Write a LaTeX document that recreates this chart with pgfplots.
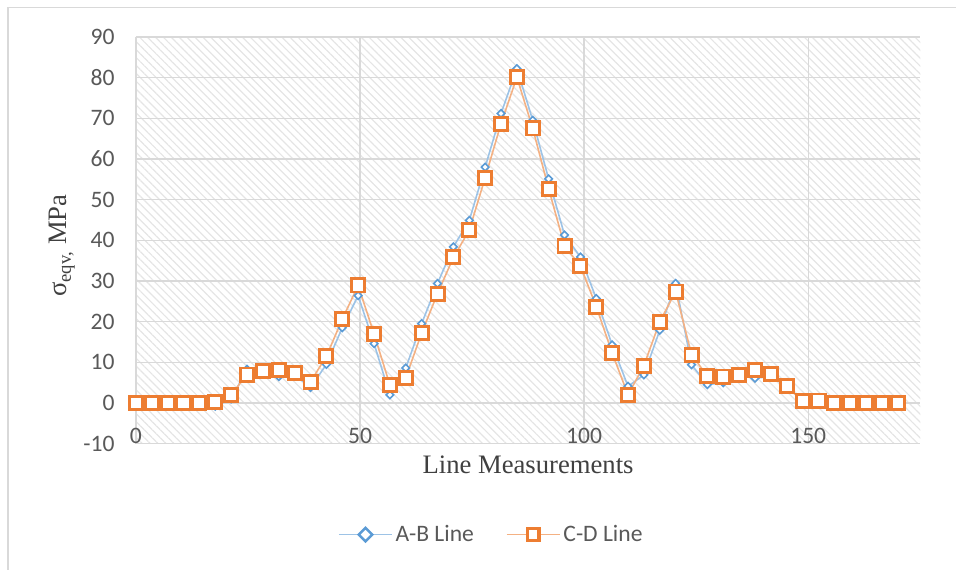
\documentclass[border=0pt]{standalone}
\usepackage{pgfplots}
\pgfplotsset{compat=1.18}
\usepackage{pgfplotstable}
\usetikzlibrary{patterns.meta}
\usepackage{fontspec}
\setmainfont{Liberation Serif}
\newfontfamily\calibri{Carlito}

\definecolor{abmark}{HTML}{5B9BD5}
\definecolor{abline}{HTML}{9DC3E6}
\definecolor{cdmark}{HTML}{ED7D31}
\definecolor{cdline}{HTML}{F4B183}
\definecolor{gridgray}{HTML}{D9D9D9}
\definecolor{labelgray}{HTML}{595959}

% x = position along the line, ab = A-B line, cd = C-D line
\pgfplotstableread{
x      ab     cd
0.00   0.0    0.0
3.54   0.0    0.0
7.08   0.0    0.0
10.63  0.0    0.0
14.17  0.0    0.0
17.71  -0.8   0.2
21.25  1.0    2.0
24.79  8.3    7.0
28.33  8.0    7.8
31.88  6.5    8.2
35.42  7.0    7.4
38.96  3.8    5.2
42.50  9.5    11.5
46.04  18.5   20.6
49.58  26.4   28.9
53.13  14.6   17.0
56.67  2.0    4.4
60.21  8.6    6.2
63.75  19.5   17.2
67.29  29.4   26.9
70.83  38.4   35.8
74.38  44.9   42.5
77.92  58.0   55.4
81.46  71.2   68.7
85.00  82.2   80.1
88.54  69.5   67.5
92.08  55.1   52.7
95.63  41.3   38.6
99.17  35.9   33.7
102.71 25.7   23.7
106.25 14.3   12.3
109.79 4.1    2.0
113.33 6.9    9.2
116.88 17.9   20.0
120.42 29.4   27.4
123.96 9.4    11.9
127.50 4.5    6.6
131.04 5.0    6.5
134.58 6.9    6.9
138.13 6.1    8.2
141.67 6.5    7.2
145.21 4.1    4.1
148.75 0.4    0.4
152.29 0.4    0.6
155.83 0.0    0.0
159.38 0.0    0.0
162.92 0.0    0.0
166.46 0.0    0.0
170.00 0.0    0.0
}\data

\begin{document}
\begin{tikzpicture}
\begin{axis}[
    scale only axis,
    width=588.75pt,
    height=305.25pt,
    xmin=0, xmax=175,
    ymin=-10, ymax=90,
    xtick={0,50,100,150},
    ytick={-10,0,...,90},
    grid=major,
    grid style={gridgray, line width=1.1pt},
    axis line style={draw=none},
    major tick length=0pt,
    axis background/.style={pattern={Lines[angle=-45,distance=4.2pt,line width=0.9pt]}, pattern color=black!10},
    /pgf/number format/assume math mode=true,
    ticklabel style={font=\calibri\fontsize{17.7}{20}\selectfont, text=labelgray},
    xticklabel style={yshift=15.5pt},
    yticklabel style={xshift=-12.5pt},
    xlabel={Line Measurements},
    ylabel={σ\textsubscript{eqv,} MPa},
    label style={font=\fontsize{20}{24}\selectfont, text=black!75},
    xlabel style={at={(axis description cs:0.5,0)}, anchor=center, yshift=-15.75pt},
    ylabel style={at={(axis description cs:0,0.5)}, anchor=center, yshift=55.5pt, xshift=-4pt},
    legend style={at={(axis description cs:0.4535,-0.2236)}, anchor=center, legend columns=2, draw=none, fill=none,
        font=\calibri\fontsize{17.7}{20}\selectfont, text=labelgray,
        /tikz/every even column/.append style={column sep=22pt}},
    legend image code/.code={\draw[mark repeat=2, mark phase=2, #1] plot coordinates {(0pt,0pt) (20pt,0pt) (40pt,0pt)};},
]
\addplot[forget plot, abline, line width=1.2pt, mark=square*, mark size=2pt,
    mark options={rotate=45, draw=abmark, fill=white, line width=1.2pt}] table[x=x, y=ab] {\data};
\addplot[forget plot, cdline, line width=1.2pt, mark=square*, mark size=4.9pt,
    mark options={draw=cdmark, fill=white, line width=2.2pt}] table[x=x, y=cd] {\data};
\addlegendimage{abline, line width=1.2pt, mark=square*, mark size=3.6pt,
    mark options={rotate=45, draw=abmark, fill=white, line width=1.8pt}}
\addlegendentry{A-B Line}
\addlegendimage{cdline, line width=1.2pt, mark=square*, mark size=4.3pt,
    mark options={draw=cdmark, fill=white, line width=2.4pt}}
\addlegendentry{C-D Line}
\end{axis}
% page size and the chart frame
\path ([shift={(-102pt,-94.5pt)}]current axis.south west) rectangle ([shift={(27pt,27.75pt)}]current axis.north east);
\draw[gridgray, line width=1.1pt] ([shift={(-96pt,-94.5pt)}]current axis.south west) -- ([shift={(-96pt,22pt)}]current axis.north west) -- ([shift={(27pt,22pt)}]current axis.north east);
\end{tikzpicture}
\end{document}
